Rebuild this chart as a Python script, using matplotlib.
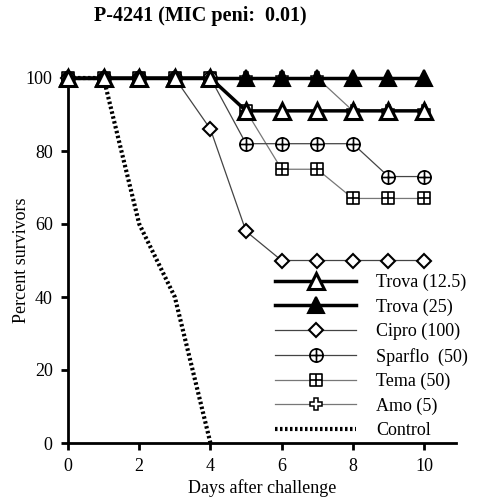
import numpy as np
import matplotlib
matplotlib.use("Agg")
import matplotlib.pyplot as plt
from matplotlib.path import Path

days = [0, 1, 2, 3, 4, 5, 6, 7, 8, 9, 10]
control_days = [0, 1, 2, 3, 4]

trova_125 = [100, 100, 100, 100, 100, 91, 91, 91, 91, 91, 91]
trova_25 = [100, 100, 100, 100, 100, 100, 100, 100, 100, 100, 100]
cipro = [100, 100, 100, 100, 86, 58, 50, 50, 50, 50, 50]
sparflo = [100, 100, 100, 100, 100, 82, 82, 82, 82, 73, 73]
tema = [100, 100, 100, 100, 100, 91, 75, 75, 67, 67, 67]
amo = [100, 100, 100, 100, 100, 100, 100, 100, 91, 91, 91]
control = [100, 100, 60, 40, 0]

labels = ["Trova (12.5)", "Trova (25)", "Cipro (100)", "Sparflo  (50)",
          "Tema (50)", "Amo (5)", "Control"]

plt.rcParams['font.family'] = ['Liberation Serif', 'DejaVu Serif']

# circle with a cross, square with a cross
hline = Path([[-1, 0], [1, 0]], [Path.MOVETO, Path.LINETO])
vline = Path([[0, -1], [0, 1]], [Path.MOVETO, Path.LINETO])
circ_plus = Path.make_compound_path(Path.unit_circle(), hline, vline)
sq = Path([[-1, -1], [1, -1], [1, 1], [-1, 1], [-1, -1]],
          [Path.MOVETO, Path.LINETO, Path.LINETO, Path.LINETO, Path.CLOSEPOLY])
sq_plus = Path.make_compound_path(sq, hline, vline)

fig = plt.figure(figsize=(4.87, 5.0), dpi=100)
ax = fig.add_axes([0.1396, 0.114, 0.797, 0.73])

h_ctrl, = ax.plot(control_days, control, color='black', lw=3, ls=(0, (0.6, 0.6)),
                  clip_on=False, zorder=2)
h_amo, = ax.plot(days, amo, color='#777777', lw=0.9, marker='P', ms=8,
                 mfc='white', mec='black', mew=1.1, clip_on=False, zorder=3)
h_tema, = ax.plot(days, tema, color='#777777', lw=0.9, marker=sq_plus, ms=9,
                  mfc='white', mec='black', mew=1.2, clip_on=False, zorder=4)
h_spar, = ax.plot(days, sparflo, color='#444444', lw=0.9, marker=circ_plus, ms=9.5,
                  mfc='white', mec='black', mew=1.2, clip_on=False, zorder=5)
h_cip, = ax.plot(days, cipro, color='#444444', lw=0.9, marker='D', ms=7,
                 mfc='white', mec='black', mew=1.5, clip_on=False, zorder=6)
h_t25, = ax.plot(days, trova_25, color='black', lw=2.5, marker='^', ms=11,
                 mfc='black', mec='black', mew=1.5, clip_on=False, zorder=7)
h_t125, = ax.plot(days, trova_125, color='black', lw=2.5, marker='^', ms=11,
                  mfc='white', mec='black', mew=2.2, clip_on=False, zorder=8)

ax.set_xlim(0, 10.9)
ax.set_ylim(0, 100)
ax.set_xticks([0, 2, 4, 6, 8, 10])
ax.set_yticks([0, 20, 40, 60, 80, 100])
ax.spines['top'].set_visible(False)
ax.spines['right'].set_visible(False)
ax.spines['left'].set_linewidth(2)
ax.spines['bottom'].set_linewidth(2)
ax.tick_params(direction='out', length=5, width=2, labelsize=13, pad=6)
ax.set_xlabel("Days after challenge", fontsize=13, labelpad=3)
ax.set_ylabel("Percent survivors", fontsize=13, labelpad=-3)

fig.text(0.411, 0.968, "P-4241 (MIC peni:  0.01)", ha='center', va='center',
         fontsize=14.5, fontweight='bold')

handles = [h_t125, h_t25, h_cip, h_spar, h_tema, h_amo, h_ctrl]
ax.legend(handles, labels, loc='upper left', bbox_to_anchor=(275 / 487, 1 - 274 / 500),
          bbox_transform=fig.transFigure, frameon=False, fontsize=13,
          handlelength=4.5, handletextpad=1.1, labelspacing=0.4, borderpad=0,
          borderaxespad=0)

fig.savefig("out.png", dpi=100)
